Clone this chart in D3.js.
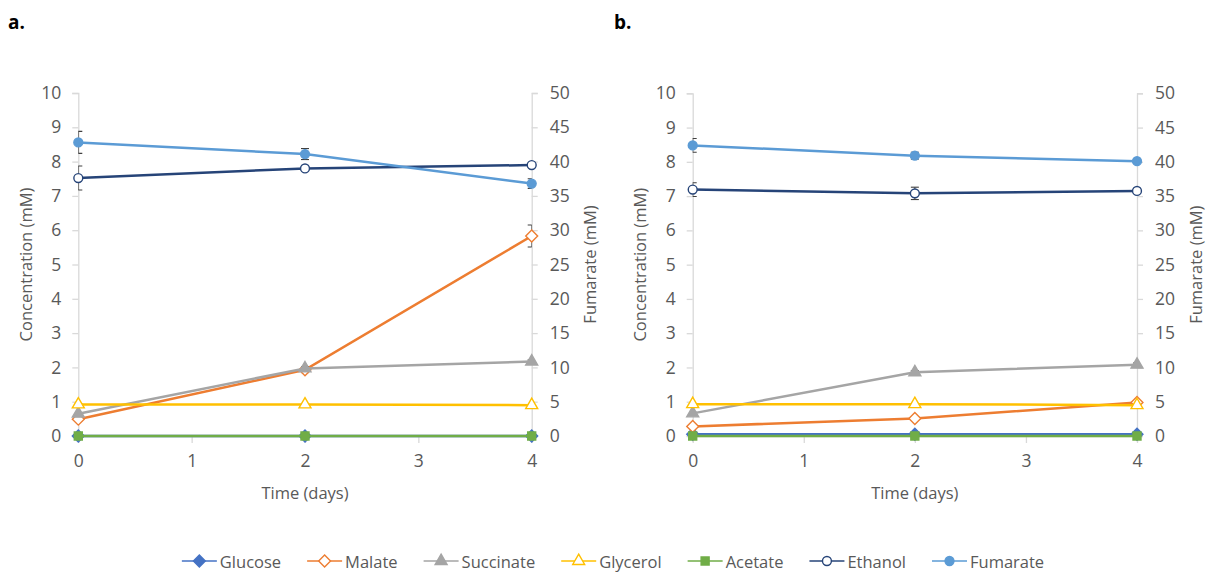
<!DOCTYPE html>
<html><head><meta charset="utf-8">
<script src="https://cdn.jsdelivr.net/npm/d3@7"></script>
<style>
body{margin:0;background:#fff;}
text{font-family:"Open Sans","Noto Sans",sans-serif;fill:#595959;}
</style></head>
<body><svg id="c" width="1212" height="573"></svg>
<script>
// ---- data ----
const days = [0, 2, 4];
const seriesNames = ["Glucose","Malate","Succinate","Glycerol","Acetate","Ethanol","Fumarate"];
const secondaryAxisSeries = ["Ethanol","Fumarate"];
const leftTicks = [0,1,2,3,4,5,6,7,8,9,10];
const rightTicks = [0,5,10,15,20,25,30,35,40,45,50];
const xTicks = [0,1,2,3,4];

// panel a
const aGlucose   = [0, 0, 0];
const aMalate    = [0.49, 1.93, 5.83];
const aSuccinate = [0.65, 1.97, 2.17];
const aGlycerol  = [0.92, 0.92, 0.90];
const aAcetate   = [0, 0, 0];
const aEthanol   = [37.6, 39.0, 39.5];
const aFumarate  = [42.8, 41.1, 36.8];
const aErrGlucose=[0,0,0], aErrMalate=[0.05,0.08,0.32], aErrSuccinate=[0.03,0.05,0.05],
      aErrGlycerol=[0.02,0.02,0.02], aErrAcetate=[0,0,0],
      aErrEthanol=[1.75,0.3,0.3], aErrFumarate=[1.6,0.8,0.7];

// panel b
const bGlucose   = [0.05, 0.05, 0.05];
const bMalate    = [0.28, 0.51, 0.98];
const bSuccinate = [0.66, 1.86, 2.08];
const bGlycerol  = [0.93, 0.93, 0.90];
const bAcetate   = [0, 0, 0];
const bEthanol   = [35.95, 35.4, 35.75];
const bFumarate  = [42.4, 40.9, 40.1];
const bErrGlucose=[0.02,0.02,0.02], bErrMalate=[0.03,0.03,0.05], bErrSuccinate=[0.03,0.05,0.05],
      bErrGlycerol=[0.02,0.02,0.02], bErrAcetate=[0,0,0],
      bErrEthanol=[1.0,0.9,0.3], bErrFumarate=[1.0,0.5,0.3];

// ---- styles ----
const colors = {Glucose:"#4472C4",Malate:"#ED7D31",Succinate:"#A5A5A5",Glycerol:"#FFC000",
                Acetate:"#70AD47",Ethanol:"#264478",Fumarate:"#5B9BD5"};
const markers = {Glucose:["diamond",true],Malate:["diamond",false],Succinate:["triangle",true],
                 Glycerol:["triangle",false],Acetate:["square",true],Ethanol:["circle",false],
                 Fumarate:["circle",true]};

const panels = [
  {label:"a.", lx:8, x0:78.3, x1:531.7, y0:93, y1:436,
   vals:[aGlucose,aMalate,aSuccinate,aGlycerol,aAcetate,aEthanol,aFumarate],
   errs:[aErrGlucose,aErrMalate,aErrSuccinate,aErrGlycerol,aErrAcetate,aErrEthanol,aErrFumarate]},
  {label:"b.", lx:614, x0:692.7, x1:1137, y0:93.3, y1:436,
   vals:[bGlucose,bMalate,bSuccinate,bGlycerol,bAcetate,bEthanol,bFumarate],
   errs:[bErrGlucose,bErrMalate,bErrSuccinate,bErrGlycerol,bErrAcetate,bErrEthanol,bErrFumarate]}
];

const svg = d3.select("#c");
const axisColor = "#D9D9D9";

function markerPath(type){
  const s = {diamond:d3.symbolDiamond2, triangle:d3.symbolTriangle, square:d3.symbolSquare, circle:d3.symbolCircle}[type];
  const size = {diamond:90, triangle:62, square:64, circle:62}[type];
  return d3.symbol().type(s).size(size)();
}

panels.forEach((p,pi)=>{
  const g = svg.append("g");
  const x = d3.scaleLinear().domain([0,4]).range([p.x0,p.x1]);
  const yL = d3.scaleLinear().domain([0,10]).range([p.y1,p.y0]);
  const yR = d3.scaleLinear().domain([0,50]).range([p.y1,p.y0]);

  g.append("text").attr("x",p.lx).attr("y",29).text(p.label)
    .style("font-weight","bold").style("font-size","19px").style("fill","#000");

  // axes
  const axL = d3.axisLeft(yL).tickValues(leftTicks).tickSize(6).tickPadding(11).tickFormat(d3.format("d"));
  const axR = d3.axisRight(yR).tickValues(rightTicks).tickSize(6).tickPadding(12).tickFormat(d3.format("d"));
  const axB = d3.axisBottom(x).tickValues(xTicks).tickSize(6).tickPadding(13).tickFormat(d3.format("d"));
  const gl = g.append("g").attr("transform",`translate(${p.x0},0)`).call(axL);
  const gr = g.append("g").attr("transform",`translate(${p.x1},0)`).call(axR);
  const gb = g.append("g").attr("transform",`translate(0,${p.y1})`).call(axB);
  [gl,gr,gb].forEach(a=>{
    a.select(".domain").attr("stroke",axisColor).attr("stroke-width",1.3);
    a.selectAll(".tick line").attr("stroke",axisColor).attr("stroke-width",1.3);
    a.selectAll(".tick text").style("font-size","17.5px").attr("fill","#595959")
      .style("font-family",'"Open Sans","Noto Sans",sans-serif');
  });
  gb.selectAll(".tick line").attr("y2",7);

  // axis titles
  g.append("text").attr("transform",`translate(${p.x0-53},${(p.y0+p.y1)/2}) rotate(-90)`)
    .attr("text-anchor","middle").attr("dominant-baseline","central").style("font-size","16.5px").text("Concentration (mM)");
  g.append("text").attr("transform",`translate(${p.x1+58},${(p.y0+p.y1)/2}) rotate(-90)`)
    .attr("text-anchor","middle").attr("dominant-baseline","central").style("font-size","16.5px").text("Fumarate (mM)");
  g.append("text").attr("x",(p.x0+p.x1)/2).attr("y",p.y1+63).attr("text-anchor","middle")
    .style("font-size","16.5px").text("Time (days)");

  // clip for error bars
  const cid = "clip"+pi;
  svg.append("clipPath").attr("id",cid).append("rect")
    .attr("x",p.x0).attr("y",0).attr("width",p.x1-p.x0).attr("height",573);

  seriesNames.forEach((name,si)=>{
    const y = secondaryAxisSeries.includes(name) ? yR : yL;
    const vals = p.vals[si], errs = p.errs[si];
    const pts = days.map((d,i)=>({d,v:vals[i],e:errs[i]}));
    const sg = g.append("g");
    // error bars
    const eg = sg.append("g").attr("clip-path",`url(#${cid})`);
    pts.filter(o=>o.e>0).forEach(o=>{
      const xx = x(o.d), ya = y(o.v+o.e), yb = y(o.v-o.e);
      eg.append("line").attr("x1",xx).attr("x2",xx).attr("y1",ya).attr("y2",yb).attr("stroke","#404040").attr("stroke-width",1.1);
      [ya,yb].forEach(yy=>eg.append("line").attr("x1",xx-4).attr("x2",xx+4).attr("y1",yy).attr("y2",yy).attr("stroke","#404040").attr("stroke-width",1.1));
    });
    sg.append("path").datum(pts)
      .attr("d",d3.line().x(o=>x(o.d)).y(o=>y(o.v)))
      .attr("fill","none").attr("stroke",colors[name]).attr("stroke-width",2.5);
    const [mt,filled] = markers[name];
    sg.selectAll("path.m").data(pts).join("path").attr("class","m")
      .attr("d",markerPath(mt))
      .attr("transform",o=>`translate(${x(o.d)},${y(o.v)})`)
      .attr("fill",filled?colors[name]:"#fff").attr("stroke",colors[name]).attr("stroke-width",1.4);
  });
});

// legend
const lg = svg.append("g");
let cx = 0;
seriesNames.forEach(name=>{
  const it = lg.append("g");
  it.append("line").attr("x1",0).attr("x2",35).attr("y1",0).attr("y2",0).attr("stroke",colors[name]).attr("stroke-width",1.6);
  const [mt,filled] = markers[name];
  it.append("path").attr("d",markerPath(mt)).attr("transform","translate(17.5,0)")
    .attr("fill",filled?colors[name]:"#fff").attr("stroke",colors[name]).attr("stroke-width",1.4);
  const t = it.append("text").attr("x",38).attr("dominant-baseline","central").style("font-size","16.5px").text(name);
  const w = 38 + t.node().getComputedTextLength();
  it.attr("transform",`translate(${cx},561)`);
  cx += w + 26;
});
const totalW = cx - 26;
lg.attr("transform",`translate(${613 - totalW/2},0)`);
</script></body></html>
